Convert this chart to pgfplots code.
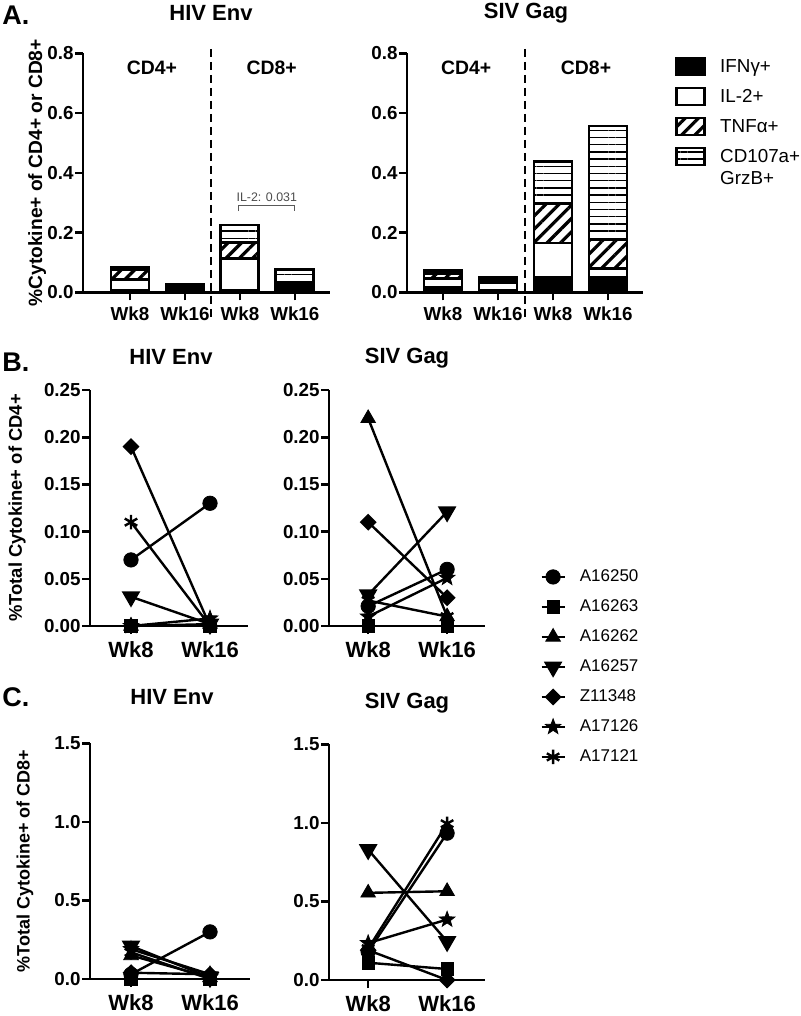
\documentclass[border=0pt]{standalone}
\usepackage{pgfplots}
\pgfplotsset{compat=1.18}
\usetikzlibrary{patterns.meta}
\usepackage{fontspec}
\setmainfont{Liberation Sans}

\pgfdeclareplotmark{fstar}{%
 \pgfpathmoveto{\pgfpointpolar{90}{1.2\pgfplotmarksize}}%
 \pgfpathlineto{\pgfpointpolar{126}{0.5\pgfplotmarksize}}%
 \pgfpathlineto{\pgfpointpolar{162}{1.2\pgfplotmarksize}}%
 \pgfpathlineto{\pgfpointpolar{198}{0.5\pgfplotmarksize}}%
 \pgfpathlineto{\pgfpointpolar{234}{1.2\pgfplotmarksize}}%
 \pgfpathlineto{\pgfpointpolar{270}{0.5\pgfplotmarksize}}%
 \pgfpathlineto{\pgfpointpolar{306}{1.2\pgfplotmarksize}}%
 \pgfpathlineto{\pgfpointpolar{342}{0.5\pgfplotmarksize}}%
 \pgfpathlineto{\pgfpointpolar{18}{1.2\pgfplotmarksize}}%
 \pgfpathlineto{\pgfpointpolar{54}{0.5\pgfplotmarksize}}%
 \pgfpathclose\pgfusepathqfillstroke}

\pgfplotsset{
 base/.style={
  scale only axis, axis lines*=left, axis line style={line width=1.3pt},
  every tick/.style={line width=1.3pt, black}, major tick length=4pt, tick align=outside,
  /pgf/number format/assume math mode=true,
  yticklabel style={font=\bfseries\fontsize{9.4}{11}\selectfont, inner xsep=0.5pt},
  clip=false, anchor=south west,
 },
 ifn/.style={fill=black, draw=black, line width=1.4pt},
 il2/.style={fill=white, draw=black, line width=1.4pt},
 tnf/.style={draw=black, line width=1.4pt, pattern={Lines[angle=45,distance=4.7pt,line width=1.6pt]}},
 cdg/.style={draw=black, line width=1.4pt, pattern={Lines[angle=0,distance=3.6pt,line width=0.7pt]}},
 pl/.style={black, line width=1.2pt, mark options={solid, fill=black, line width=0.4pt}},
 mcirc/.style={pl, mark=*, mark size=3.6pt},
 msq/.style={pl, mark=square*, mark size=3.1pt},
 mtri/.style={pl, mark=triangle*, mark size=4.2pt},
 mtrid/.style={pl, mark=triangle*, mark size=4.2pt, mark options={rotate=180}},
 mdia/.style={pl, mark=square*, mark size=2.4pt, mark options={rotate=45}},
 mstar/.style={pl, mark=fstar, mark size=3.4pt},
 mast/.style={pl, mark=asterisk, mark size=3.6pt, mark options={line width=1.2pt}},
 lineplot/.style={base,
  xmin=-0.5, xmax=1.48, xtick={0,1}, xticklabels={Wk8,Wk16},
  xticklabel style={font=\bfseries\fontsize{11}{13}\selectfont},
  legend image code/.code={\draw[mark repeat=2,mark phase=2,##1] plot coordinates {(0pt,0pt) (5.75pt,0pt) (11.5pt,0pt)};},
 },
 barplot/.style={base, ybar stacked, bar width=19pt,
  ymin=0, ymax=0.8, ytick={0,0.2,0.4,0.6,0.8},
  yticklabel style={/pgf/number format/.cd,fixed,fixed zerofill,precision=1},
  xtick={0,1,2,3}, xticklabels={Wk8,Wk16,Wk8,Wk16},
  xticklabel style={font=\bfseries\fontsize{9.4}{11}\selectfont},
  width=118pt, height=119.5pt,
 },
}

\begin{document}
\begin{tikzpicture}
\path[use as bounding box] (0,0) rectangle (400pt,-508pt);

% ---------- Panel A, HIV Env
\begin{axis}[barplot, at={(41.5pt,-146.15pt)}, width=123.5pt, xmin=-0.855, xmax=3.64,
 ylabel={\%Cytokine+ of CD4+ or CD8+},
 ylabel style={at={(axis description cs:-0.186,0.5)}, anchor=center, font=\bfseries\fontsize{9.6}{11}\selectfont}]
 \addplot[ifn] coordinates {(0,0.008) (1,0.012) (2,0.008) (3,0.027)};
 \addplot[il2] coordinates {(0,0.035) (1,0.003) (2,0.105) (3,0.003)};
 \addplot[tnf] coordinates {(0,0.032) (1,0.006) (2,0.055) (3,0.003)};
 \addplot[cdg] coordinates {(0,0.007) (1,0.005) (2,0.057) (3,0.044)};
 \draw[line width=1pt, dash pattern=on 4pt off 2.5pt] (axis cs:1.47,0.815) -- (axis cs:1.47,-0.085);
 \node[font=\bfseries\fontsize{9.7}{11}\selectfont] at (axis cs:0.4,0.75) {CD4+};
 \node[font=\bfseries\fontsize{9.7}{11}\selectfont] at (axis cs:2.58,0.75) {CD8+};
 \draw[black!65, line width=0.6pt] (axis cs:1.97,0.272) -- (axis cs:1.97,0.291) -- (axis cs:3.0,0.291) -- (axis cs:3.0,0.272);
 \node[font=\fontsize{6.2}{7}\selectfont, text=black!70] at (axis cs:2.49,0.318) {IL-2: 0.031};
\end{axis}

% ---------- Panel A, SIV Gag
\begin{axis}[barplot, at={(203.5pt,-146.15pt)}, width=118pt, xmin=-0.655, xmax=3.636,
 legend cell align=left,
 legend image code/.code={\draw[#1, line width=1.4pt] (0pt,-4.25pt) rectangle (14pt,4.25pt);},
 legend style={at={(axis description cs:1.1356,0.99)}, anchor=north west, draw=none, fill=none,
   inner sep=0pt, row sep=4.5pt, column sep=7pt,
   nodes={inner sep=0pt, text height=8pt, text depth=2.5pt, anchor=west, font=\fontsize{9.4}{11.3}\selectfont}}]
 \addplot[ifn] coordinates {(0,0.017) (1,0.007) (2,0.049) (3,0.049)};
 \addplot[il2] coordinates {(0,0.030) (1,0.025) (2,0.116) (3,0.031)};
 \addplot[tnf] coordinates {(0,0.017) (1,0.012) (2,0.132) (3,0.098)};
 \addplot[cdg] coordinates {(0,0.008) (1,0.007) (2,0.141) (3,0.379)};
 \addlegendentry{IFNγ+}
 \addlegendentry{IL-2+}
 \addlegendentry{TNFα+}
 \addlegendentry{\smash{\begin{tabular}[t]{@{}l@{}}CD107a+\\[0pt]GrzB+\end{tabular}}}
 \draw[line width=1pt, dash pattern=on 4pt off 2.5pt] (axis cs:1.49,0.815) -- (axis cs:1.49,-0.085);
 \node[font=\bfseries\fontsize{9.7}{11}\selectfont] at (axis cs:0.42,0.75) {CD4+};
 \node[font=\bfseries\fontsize{9.7}{11}\selectfont] at (axis cs:2.6,0.75) {CD8+};
\end{axis}

% ---------- Panel B, HIV Env
\begin{axis}[lineplot, at={(45pt,-313pt)}, width=79pt, height=118pt, xmin=-0.519, xmax=1.481,
 ymin=0, ymax=0.25, ytick={0,0.05,0.1,0.15,0.2,0.25},
 yticklabel style={/pgf/number format/.cd,fixed,fixed zerofill,precision=2},
 ylabel={\%Total Cytokine+ of CD4+},
 ylabel style={at={(axis description cs:-0.462,0.5)}, anchor=center, font=\bfseries\fontsize{9.2}{11}\selectfont}]
 \addplot[mcirc] coordinates {(0,0.07) (1,0.13)};
 \addplot[msq] coordinates {(0,0) (1,0)};
 \addplot[mtri] coordinates {(0,0) (1,0.002)};
 \addplot[mtrid] coordinates {(0,0.031) (1,0.002)};
 \addplot[mdia] coordinates {(0,0.19) (1,0.0)};
 \addplot[mstar] coordinates {(0,0.0) (1,0.008)};
 \addplot[mast] coordinates {(0,0.11) (1,0.0)};
\end{axis}

% ---------- Panel B, SIV Gag
\begin{axis}[lineplot, at={(164.5pt,-313pt)}, width=78pt, height=118pt, xmin=-0.496, xmax=1.48,
 ymin=0, ymax=0.25, ytick={0,0.05,0.1,0.15,0.2,0.25},
 yticklabel style={/pgf/number format/.cd,fixed,fixed zerofill,precision=2},
 legend cell align=left,
 legend style={at={(axis description cs:1.3526,0.252)}, anchor=north west, draw=none, fill=none,
   inner sep=0pt, row sep=5pt, column sep=7pt,
   nodes={inner sep=0pt, text height=7.5pt, text depth=2.5pt, anchor=west, font=\fontsize{8.5}{10}\selectfont}}]
 \addplot[mcirc] coordinates {(0,0.021) (1,0.06)};
 \addplot[msq] coordinates {(0,0) (1,0)};
 \addplot[mtri] coordinates {(0,0.22) (1,0.01)};
 \addplot[mtrid] coordinates {(0,0.033) (1,0.121)};
 \addplot[mdia] coordinates {(0,0.11) (1,0.03)};
 \addplot[mstar] coordinates {(0,0.01) (1,0.051)};
 \addplot[mast] coordinates {(0,0.027) (1,0.01)};
 \legend{A16250,A16263,A16262,A16257,Z11348,A17126,A17121}
\end{axis}

% ---------- Panel C, HIV Env
\begin{axis}[lineplot, at={(45pt,-489.5pt)}, width=80pt, height=117.8pt, xmin=-0.519, xmax=1.506,
 ymin=0, ymax=1.5, ytick={0,0.5,1,1.5},
 yticklabel style={/pgf/number format/.cd,fixed,fixed zerofill,precision=1},
 ylabel={\%Total Cytokine+ of CD8+},
 ylabel style={at={(axis description cs:-0.406,0.5)}, anchor=center, font=\bfseries\fontsize{9}{11}\selectfont}]
 \addplot[mcirc] coordinates {(0,0.03) (1,0.30)};
 \addplot[msq] coordinates {(0,0.0) (1,0.0)};
 \addplot[mtri] coordinates {(0,0.15) (1,0.01)};
 \addplot[mtrid] coordinates {(0,0.21) (1,0.01)};
 \addplot[mdia] coordinates {(0,0.04) (1,0.03)};
 \addplot[mstar] coordinates {(0,0.19) (1,0.03)};
 \addplot[mast] coordinates {(0,0.17) (1,0.0)};
\end{axis}

% ---------- Panel C, SIV Gag
\begin{axis}[lineplot, at={(164.5pt,-490pt)}, width=78pt, height=117.8pt, xmin=-0.496, xmax=1.48,
 ymin=0, ymax=1.5, ytick={0,0.5,1,1.5},
 yticklabel style={/pgf/number format/.cd,fixed,fixed zerofill,precision=1}]
 \addplot[mcirc] coordinates {(0,0.18) (1,0.935)};
 \addplot[msq] coordinates {(0,0.11) (1,0.07)};
 \addplot[mtri] coordinates {(0,0.555) (1,0.565)};
 \addplot[mtrid] coordinates {(0,0.83) (1,0.245)};
 \addplot[mdia] coordinates {(0,0.19) (1,0.0)};
 \addplot[mstar] coordinates {(0,0.235) (1,0.385)};
 \addplot[mast] coordinates {(0,0.2) (1,0.995)};
\end{axis}

% ---------- titles and panel letters (pixel coordinates)
\begin{scope}[x=0.5pt, y=-0.5pt, every node/.style={font=\bfseries\fontsize{11}{13}\selectfont}]
 \node[font=\bfseries\fontsize{13.5}{15}\selectfont] at (16,15) {A.};
 \node at (211,13) {HIV Env};
 \node at (526,13) {SIV Gag};
 \node[font=\bfseries\fontsize{13.5}{15}\selectfont] at (16,362) {B.};
 \node at (171,357) {HIV Env};
 \node at (407,358) {SIV Gag};
 \node[font=\bfseries\fontsize{13.5}{15}\selectfont] at (16,697) {C.};
 \node at (172,697) {HIV Env};
 \node at (407,703) {SIV Gag};
\end{scope}
\end{tikzpicture}
\end{document}
